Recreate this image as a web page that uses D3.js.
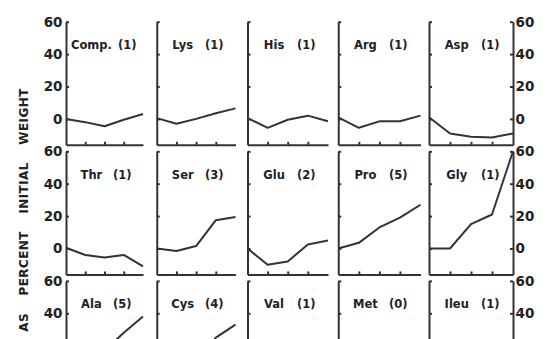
<!DOCTYPE html>
<html>
<head>
<meta charset="utf-8">
<script src="https://cdn.jsdelivr.net/npm/d3@7"></script>
<style>
  html, body { margin: 0; padding: 0; background: #ffffff; }
  svg { display: block; }
  text { font-family: "DejaVu Sans", sans-serif; font-weight: bold; fill: #222; }
</style>
</head>
<body>
<svg id="chart" width="556" height="339"></svg>
<script>
// Amino-acid panels, read row by row (5 per row)
const panelNames = ["Comp.", "Lys", "His", "Arg", "Asp",
                    "Thr", "Ser", "Glu", "Pro", "Gly",
                    "Ala", "Cys", "Val", "Met", "Ileu"];
const residueCounts = [1, 1, 1, 1, 1,
                       1, 3, 2, 5, 1,
                       5, 4, 1, 0, 1];

// Change in weight, as percent of initial weight, at five successive sampling times
const timePoints = [0, 1, 2, 3, 4];
const compValues = [0, -2, -4.5, -0.5, 3];
const lysValues  = [0.5, -3, 0, 3.5, 6.5];
const hisValues  = [0.5, -5.5, -0.5, 2, -1.5];
const argValues  = [1, -5.5, -1.5, -1.5, 2];
const aspValues  = [1, -9, -11, -11.5, -9];
const thrValues  = [0.5, -4, -5.5, -4, -11];
const serValues  = [0, -1.5, 1.5, 17.5, 19.5];
const gluValues  = [0, -10, -8, 2.5, 5];
const proValues  = [0, 3.5, 13, 19, 27];
const glyValues  = [0, 0, 15, 21, 60];
const alaValues  = [0, 5, 17, 28, 38];
const cysValues  = [0, 3, 10, 25, 33];
const valValues  = [0, -3, -2, 1, 3];
const metValues  = [0, -2, -4, -3, -1];
const ileuValues = [0, -4, -3, 0, 2];

const seriesValues = [compValues, lysValues, hisValues, argValues, aspValues,
                      thrValues, serValues, gluValues, proValues, glyValues,
                      alaValues, cysValues, valValues, metValues, ileuValues];

const yTicks = [0, 20, 40, 60];
const yTitle = "AS PERCENT INITIAL WEIGHT";

// ---- layout ----
const svgW = 556, svgH = 339;
const svg = d3.select("#chart");
const nCols = 5;
const yMin = -16, yMax = 60;
const pxPerUnit = 1.62;
const plotH = (yMax - yMin) * pxPerUnit;

const colLeft  = d3.scaleLinear().domain([0, nCols - 1]).range([66, 429]);
const colRight = d3.scaleLinear().domain([0, nCols - 1]).range([143, 513]);
const rowTop   = d3.scaleLinear().domain([0, 1]).range([21.7, 151.3]);

const ink = "#333";

panelNames.forEach((name, i) => {
  const c = i % nCols, r = Math.floor(i / nCols);
  const top = rowTop(r);
  const w = colRight(c) - colLeft(c);
  const g = svg.append("g")
    .attr("transform", `translate(${colLeft(c)},${top})`);

  const x = d3.scaleLinear().domain([0, timePoints.length - 1]).range([0, w]);
  const y = d3.scaleLinear().domain([yMin, yMax]).range([plotH, 0]);

  // tick labels only where they land inside the page
  const fmt = v => (top + y(v) + 6 <= svgH ? String(v) : "");

  // left axis (labels only on the first column)
  const left = d3.axisLeft(y).tickValues(yTicks)
    .tickSizeInner(-3).tickSizeOuter(0).tickPadding(3.5)
    .tickFormat(c === 0 ? fmt : "");
  g.append("g").attr("class", "axis").call(left);

  // right axis with labels on the last column
  if (c === nCols - 1) {
    g.append("g").attr("class", "axis")
      .attr("transform", `translate(${w},0)`)
      .call(d3.axisRight(y).tickValues(yTicks)
        .tickSizeInner(-3).tickSizeOuter(0).tickPadding(2.5)
        .tickFormat(fmt));
  }

  // bottom axis: bare baseline with small marks at the sampling times
  g.append("g").attr("class", "axis")
    .attr("transform", `translate(0,${y(yMin)})`)
    .call(d3.axisBottom(x).tickValues(timePoints.slice(1, -1))
      .tickSizeInner(-3).tickSizeOuter(0).tickFormat(""));

  // data line
  g.append("path")
    .datum(seriesValues[i])
    .attr("fill", "none")
    .attr("stroke", ink)
    .attr("stroke-width", 2)
    .attr("stroke-linejoin", "round")
    .attr("d", d3.line().x((d, j) => x(timePoints[j])).y(d => y(d)));

  // panel title: name, then residue count
  const nameText = g.append("text")
    .attr("x", 0.33 * w).attr("y", 27.5)
    .attr("text-anchor", "middle")
    .style("font-size", "11.5px")
    .text(name);
  const nameEnd = 0.33 * w + nameText.node().getComputedTextLength() / 2;
  const countText = g.append("text")
    .attr("y", 27.5)
    .attr("text-anchor", "start")
    .style("font-size", "11.5px")
    .text(`(${residueCounts[i]})`);
  const cw = countText.node().getComputedTextLength();
  countText.attr("x", Math.max(0.73 * w - cw / 2, nameEnd + 6));
});

// axis styling
svg.selectAll(".axis path, .axis line")
  .attr("stroke", ink).attr("stroke-width", 2);
svg.selectAll(".axis text")
  .style("font-size", "13.5px")
  .style("font-family", "'DejaVu Sans', sans-serif")
  .style("font-weight", "bold")
  .attr("fill", "#222");

// shared vertical title
svg.append("text")
  .attr("transform", "translate(28,210) rotate(-90)")
  .attr("text-anchor", "middle")
  .style("font-size", "12px")
  .style("letter-spacing", "0.4px")
  .style("word-spacing", "13px")
  .text(yTitle);
</script>
</body>
</html>
